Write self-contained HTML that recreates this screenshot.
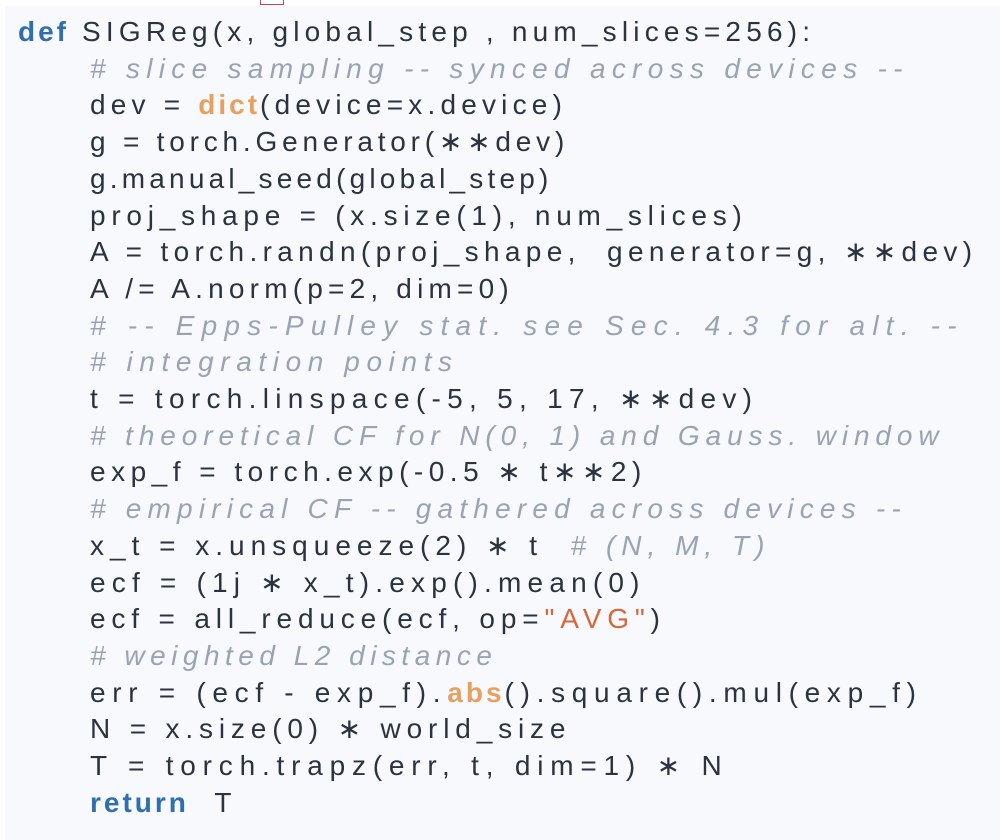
<!DOCTYPE html>
<html><head><meta charset="utf-8"><style>
html,body{margin:0;padding:0;background:#fff;}
#p{position:absolute;left:5px;top:6px;width:995px;height:834px;background:#f7f9fc;}
#r{position:absolute;left:260px;top:-2px;width:22px;height:6px;border:1px solid #c44;border-top:none;background:#fff;}
.l{position:absolute;white-space:pre;font-family:"Liberation Sans",sans-serif;font-size:28px;letter-spacing:5.2px;color:#2b3240;line-height:36px;}
.k{color:#2f6fad;font-weight:bold;letter-spacing:3px;}
.c{color:#9aa3b5;font-style:italic;}
.b{color:#e8a060;font-weight:bold;letter-spacing:3px;}
.s{color:#d9663a;}
</style></head><body>
<div id="p"></div><div id="r"></div>
<div class="l" style="left:18px;top:14px"><span class="k">def</span> SIGReg(x, global_step , num_slices=256):</div>
<div class="l" style="left:90px;top:50.7px;letter-spacing:6.3px"><span class="c"># slice sampling -- synced across devices --</span></div>
<div class="l" style="left:90px;top:87.4px">dev = <span class="b">dict</span>(device=x.device)</div>
<div class="l" style="left:90px;top:124.1px;letter-spacing:4.8px">g = torch.Generator(∗∗dev)</div>
<div class="l" style="left:90px;top:160.8px;letter-spacing:4.2px">g.manual_seed(global_step)</div>
<div class="l" style="left:90px;top:197.5px;letter-spacing:5.75px">proj_shape = (x.size(1), num_slices)</div>
<div class="l" style="left:90px;top:234.2px;letter-spacing:5.35px">A = torch.randn(proj_shape,  generator=g, ∗∗dev)</div>
<div class="l" style="left:90px;top:270.9px">A /= A.norm(p=2, dim=0)</div>
<div class="l" style="left:90px;top:307.6px;letter-spacing:7.2px"><span class="c"># -- Epps-Pulley stat. see Sec. 4.3 for alt. --</span></div>
<div class="l" style="left:90px;top:344.3px;letter-spacing:6.6px"><span class="c"># integration points</span></div>
<div class="l" style="left:90px;top:381px;letter-spacing:6.3px">t = torch.linspace(-5, 5, 17, ∗∗dev)</div>
<div class="l" style="left:90px;top:417.7px;letter-spacing:5.9px"><span class="c"># theoretical CF for N(0, 1) and Gauss. window</span></div>
<div class="l" style="left:90px;top:454.4px;letter-spacing:5.5px">exp_f = torch.exp(-0.5 ∗ t∗∗2)</div>
<div class="l" style="left:90px;top:491.1px;letter-spacing:6.2px"><span class="c"># empirical CF -- gathered across devices --</span></div>
<div class="l" style="left:90px;top:527.8px;letter-spacing:6px">x_t = x.unsqueeze(2) ∗ t  <span class="c"># (N, M, T)</span></div>
<div class="l" style="left:90px;top:564.5px;letter-spacing:6.2px">ecf = (1j ∗ x_t).exp().mean(0)</div>
<div class="l" style="left:90px;top:601.2px;letter-spacing:5.85px">ecf = all_reduce(ecf, op=<span class="s">"AVG"</span>)</div>
<div class="l" style="left:90px;top:637.9px;letter-spacing:5.5px"><span class="c"># weighted L2 distance</span></div>
<div class="l" style="left:90px;top:674.6px;letter-spacing:6.7px">err = (ecf - exp_f).<span class="b">abs</span>().square().mul(exp_f)</div>
<div class="l" style="left:90px;top:711.3px;letter-spacing:5.85px">N = x.size(0) ∗ world_size</div>
<div class="l" style="left:90px;top:748px;letter-spacing:6.8px">T = torch.trapz(err, t, dim=1) ∗ N</div>
<div class="l" style="left:90px;top:784.7px"><span class="k">return</span>  T</div>
</body></html>
